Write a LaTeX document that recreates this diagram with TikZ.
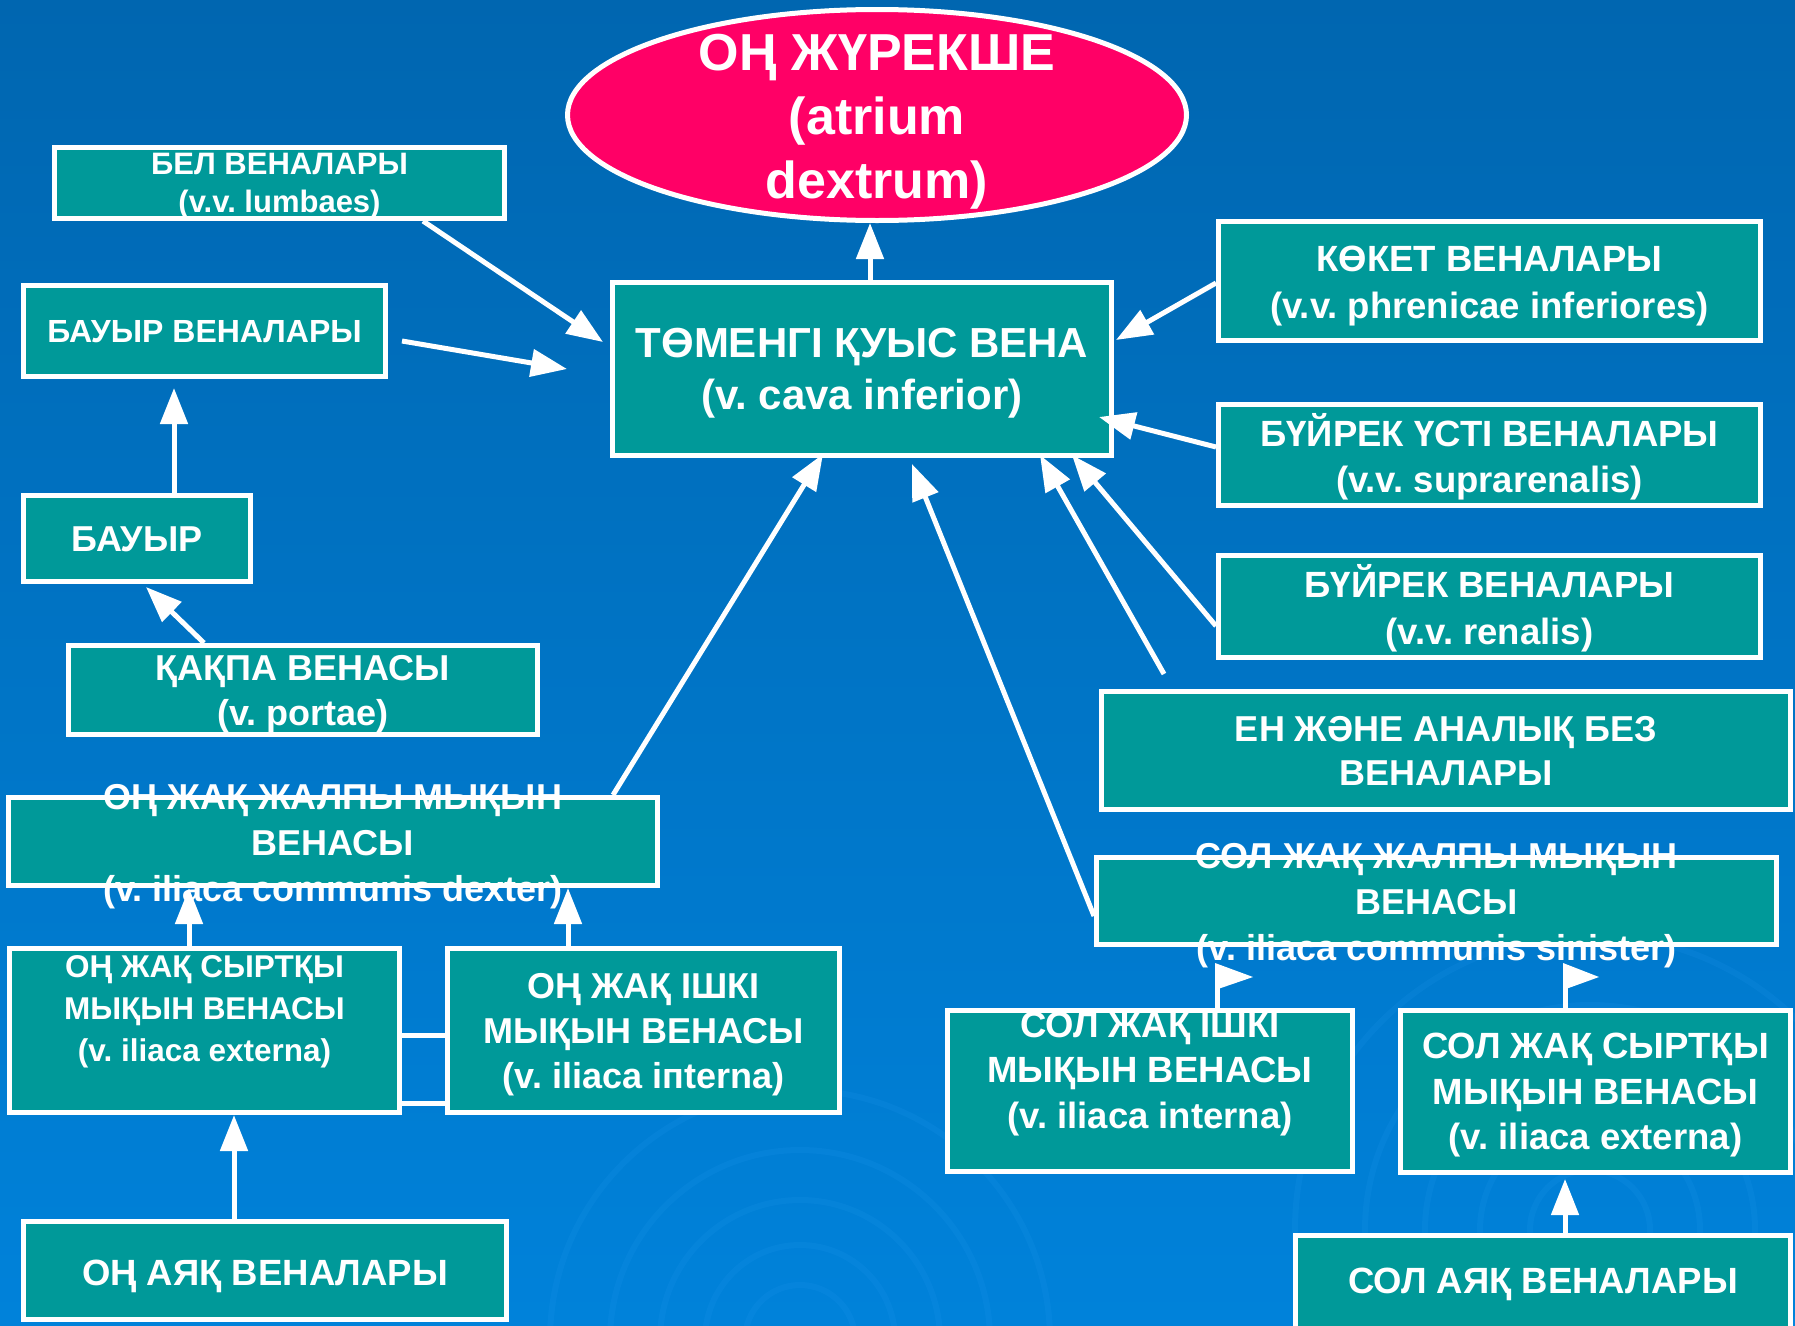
\documentclass[tikz,border=0pt]{standalone}
\usepackage{fontspec}
\setmainfont{Liberation Sans}
\usetikzlibrary{arrows.meta,shapes.geometric}
\frenchspacing

\definecolor{bgtop}{RGB}{0,102,176}
\definecolor{bgbottom}{RGB}{0,130,218}
\definecolor{veinteal}{RGB}{0,153,153}
\definecolor{atriumred}{RGB}{255,0,102}
\definecolor{ripple}{RGB}{40,155,240}

\newcommand{\boxfont}[2]{\bfseries\fontsize{#1}{#2}\selectfont}

\begin{document}
\begin{tikzpicture}[
    x=1pt, y=-1pt,
    >={Triangle[length=36pt,width=27pt]},
    vbox/.style={draw=white, line width=5pt, fill=veinteal, inner sep=0pt},
    txt/.style={text=white, align=center, font=\boxfont{36.5}{45.5}},
    vein/.style={draw=white, line width=5pt, ->},
    link/.style={draw=white, line width=5pt}
]

\useasboundingbox (0,0) rectangle (1795,1325);
\shade[top color=bgtop, bottom color=bgbottom] (0,0) rectangle (1795,1325);

% faint ripples in the background
\begin{scope}
\clip (0,0) rectangle (1795,1325);
\foreach \r in {55,95,140,190,250}
    \draw[ripple, opacity=.15, line width=6pt] (800,1340) circle[radius=\r];
\foreach \r in {60,110,165,225,295}
    \draw[ripple, opacity=.15, line width=6pt] (1590,1230) circle[radius=\r];
\end{scope}

\node[vbox, ellipse, fill=atriumred, minimum width=619, minimum height=211,
    label={[txt, font=\boxfont{52}{64}, yshift=-6.5pt]center:{ОҢ ЖҮРЕКШЕ\\(atrium\\dextrum)}}] (heart) at (877,115) {};

\node[vbox, minimum width=499, minimum height=173,
    label={[txt, font=\boxfont{42}{52}, yshift=-4.5pt]center:{ТӨМЕНГІ ҚУЫС ВЕНА\\(v. cava inferior)}}] (cava) at (862,369) {};

% left side
\node[vbox, minimum width=450, minimum height=71,
    label={[txt, font=\boxfont{31}{38}, yshift=-3.5pt]center:{БЕЛ ВЕНАЛАРЫ\\(v.v. lumbaes)}}] (lumb) at (279.5,183) {};
\node[vbox, minimum width=362, minimum height=91,
    label={[txt, font=\boxfont{32}{40}, yshift=-1pt]center:{БАУЫР ВЕНАЛАРЫ}}] (hepv) at (204.5,331) {};
\node[vbox, minimum width=227, minimum height=86,
    label={[txt, font=\boxfont{36}{45}, yshift=-1pt]center:{БАУЫР}}] (hep) at (137,538.5) {};
\node[vbox, minimum width=469, minimum height=89,
    label={[txt, font=\boxfont{36}{45}, yshift=-4.5pt]center:{ҚАҚПА ВЕНАСЫ\\(v. portae)}}] (port) at (303,690) {};
\node[vbox, minimum width=649, minimum height=88,
    label={[txt, font=\boxfont{36}{46}, yshift=-5.5pt]center:{ОҢ ЖАҚ ЖАЛПЫ МЫҚЫН\\ВЕНАСЫ\\(v. iliaca communis dexter)}}] (dex) at (333,841.5) {};
\node[vbox, minimum width=390, minimum height=164,
    label={[txt, font=\boxfont{31.5}{42}, yshift=19pt]center:{ОҢ ЖАҚ СЫРТҚЫ\\МЫҚЫН ВЕНАСЫ\\(v. iliaca externa)}}] (rext) at (204.5,1030.5) {};
\node[vbox, minimum width=392, minimum height=164,
    label={[txt, font=\boxfont{36}{45}, yshift=-4.5pt]center:{ОҢ ЖАҚ ІШКІ\\МЫҚЫН ВЕНАСЫ\\(v. iliaca iпterna)}}] (rint) at (643.5,1030.5) {};
\node[vbox, minimum width=483, minimum height=98,
    label={[txt, yshift=-5.5pt]center:{ОҢ АЯҚ ВЕНАЛАРЫ}}] (rleg) at (265,1270.5) {};

% right side
\node[vbox, minimum width=542, minimum height=119,
    label={[txt, font=\boxfont{36.5}{47}, yshift=-5.5pt]center:{КӨКЕТ ВЕНАЛАРЫ\\(v.v. phrenicae inferiores)}}] (phren) at (1489.5,281) {};
\node[vbox, minimum width=542, minimum height=101,
    label={[txt, yshift=-2pt]center:{БҮЙРЕК ҮСТІ ВЕНАЛАРЫ\\(v.v. suprarenalis)}}] (supra) at (1489.5,455) {};
\node[vbox, minimum width=542, minimum height=102,
    label={[txt, font=\boxfont{36.5}{47}, yshift=-2pt]center:{БҮЙРЕК ВЕНАЛАРЫ\\(v.v. renalis)}}] (ren) at (1489.5,606.5) {};
\node[vbox, minimum width=689, minimum height=118,
    label={[txt, font=\boxfont{36}{44}, yshift=-1pt]center:{ЕН ЖӘНЕ АНАЛЫҚ БЕЗ\\ВЕНАЛАРЫ}}] (gon) at (1446,750.5) {};
\node[vbox, minimum width=680, minimum height=87,
    label={[txt, font=\boxfont{36}{46}, yshift=-4.5pt]center:{СОЛ ЖАҚ ЖАЛПЫ МЫҚЫН\\ВЕНАСЫ\\(v. iliaca communis sinister)}}] (sin) at (1436.5,901) {};
\node[vbox, minimum width=405, minimum height=161,
    label={[txt, yshift=17pt]center:{СОЛ ЖАҚ ІШКІ\\МЫҚЫН ВЕНАСЫ\\(v. iliaca interna)}}] (lint) at (1150,1091) {};
\node[vbox, minimum width=390, minimum height=162,
    label={[txt, yshift=-4pt]center:{СОЛ ЖАҚ СЫРТҚЫ\\МЫҚЫН ВЕНАСЫ\\(v. iliaca externa)}}] (lext) at (1595.5,1091.5) {};
\node[vbox, minimum width=495, minimum height=97,
    label={[txt]center:{СОЛ АЯҚ ВЕНАЛАРЫ}}] (lleg) at (1543,1284) {};

% connectors, left side
\draw[vein] ([xshift=8pt]cava.north) -- ([xshift=-7pt]heart.south);
\draw[vein] ([xshift=143.5pt]lumb.south) -- ([xshift=-7pt,yshift=27pt]cava.west);
\draw[vein] ([xshift=14pt,yshift=-10pt]hepv.east) -- ([xshift=-43pt]cava.west);
\draw[vein] ([xshift=37pt]hep.north) -- ([xshift=-30.5pt,yshift=-9pt]hepv.south);
\draw[vein] ([xshift=-99pt]port.north) -- ([xshift=9pt,yshift=-3pt]hep.south);
\draw[vein] ([xshift=280pt]dex.north) -- ([xshift=-39pt,yshift=4pt]cava.south);
\draw[vein] ([xshift=-15.5pt]rext.north) -- ([xshift=-144pt]dex.south);
\draw[vein] ([xshift=-75.5pt]rint.north) -- ([xshift=235pt]dex.south);
\draw[vein] ([xshift=-31pt]rleg.north) -- ([xshift=29.5pt]rext.south);
\draw[link] ([yshift=-4.5pt]rext.east) -- ([yshift=-4.5pt]rint.west);
\draw[link] ([yshift=-72.5pt]rext.east) -- ([yshift=-72.5pt]rint.west);

% connectors, right side
\draw[vein] ([yshift=-2pt]phren.west) -- ([xshift=2pt,yshift=29pt]cava.east);
\draw[vein] ([yshift=8pt]supra.west) -- ([xshift=-15pt,yshift=-48pt]cava.east);
\draw[vein] ([yshift=-19.5pt]ren.west) -- ([xshift=210pt,yshift=3pt]cava.south);
\draw[vein] ([xshift=-282pt,yshift=15pt]gon.north) -- ([xshift=178pt,yshift=3pt]cava.south);
\draw[vein] ([yshift=-15pt]sin.west) -- ([xshift=50pt,yshift=-6pt]cava.south);

\coordinate (flagL) at ([xshift=67.5pt,yshift=43pt]lint.north);
\coordinate (flagR) at ([xshift=-30pt,yshift=43pt]lext.north);
\draw[link] ([xshift=67.5pt]lint.north) -- (flagL);
\draw[link] ([xshift=-30pt]lext.north) -- (flagR);
\fill[white] ([xshift=-2.5pt,yshift=2pt]flagL) -- ++(38,14) -- ++(-38,13) -- cycle;
\fill[white] ([xshift=-2.5pt,yshift=2pt]flagR) -- ++(36,14) -- ++(-36,13) -- cycle;
\draw[vein] ([xshift=22pt]lleg.north) -- ([xshift=-30.5pt,yshift=-4pt]lext.south);

\end{tikzpicture}
\end{document}
